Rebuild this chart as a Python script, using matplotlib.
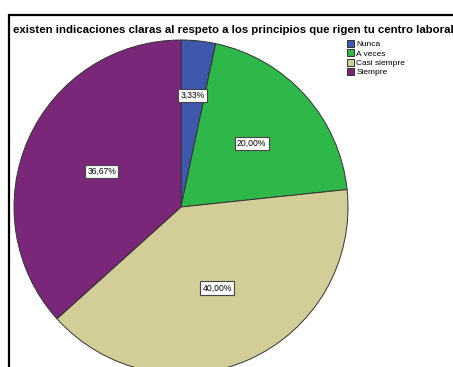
import numpy as np
import matplotlib
matplotlib.use("Agg")
import matplotlib.pyplot as plt
from matplotlib.patches import Rectangle

title = "existen indicaciones claras al respeto a los principios que rigen tu centro laboral"
categories = ["Nunca", "A veces", "Casi siempre", "Siempre"]
percents = [3.33, 20.00, 40.00, 36.67]
colors = ["#3E58AC", "#2FB84A", "#D3CE97", "#7B2779"]
label_r = [0.67, 0.57, 0.53, 0.52]

W, H = 453, 367
fig = plt.figure(figsize=(W / 100, H / 100), dpi=100)
plt.rcParams["font.family"] = ["Liberation Sans", "DejaVu Sans"]

# outer frame (cropped on right/bottom)
fig.patches.append(Rectangle((9 / W, -0.1), 1.2, 1 - 15 / H + 0.1, transform=fig.transFigure,
                             fill=False, ec="black", lw=1.6))

t = fig.text(13 / W, 1 - 33 / H, title, fontsize=9.6, fontweight="bold", ha="left",
             va="baseline")
# shrink title so it spans ~439 px like the reference
renderer = fig.canvas.get_renderer()
tw = t.get_window_extent(renderer).width
t.set_fontsize(9.6 * 438 / tw)

# pie axes: center (181,207) px, radius 167 px
cx, cy, r = 181, 207, 167
ax = fig.add_axes([(cx - r) / W, (H - cy - r) / H, 2 * r / W, 2 * r / H])
wedges, _ = ax.pie(percents, colors=colors, startangle=90, counterclock=False,
                   wedgeprops=dict(edgecolor="#333333", linewidth=0.7))
ax.set_xlim(-1, 1)
ax.set_ylim(-1, 1)
ax.set_aspect("equal")
ax.axis("off")
for w in wedges:
    w.set_clip_on(False)

for w, p, lr in zip(wedges, percents, label_r):
    ang = np.deg2rad((w.theta1 + w.theta2) / 2)
    ax.text(lr * np.cos(ang), lr * np.sin(ang), f"{p:.2f}%".replace(".", ","),
            ha="center", va="center", fontsize=6.2,
            bbox=dict(boxstyle="square,pad=0.25", fc="white", ec="#444444", lw=0.8))

fig.legend(wedges, categories, loc="upper left", bbox_to_anchor=(347 / W, 1 - 40 / H),
           frameon=False, fontsize=6, handlelength=0.8, handleheight=0.9,
           handletextpad=0.3, labelspacing=0.12, borderpad=0, borderaxespad=0)

fig.savefig("out.png", dpi=100)
